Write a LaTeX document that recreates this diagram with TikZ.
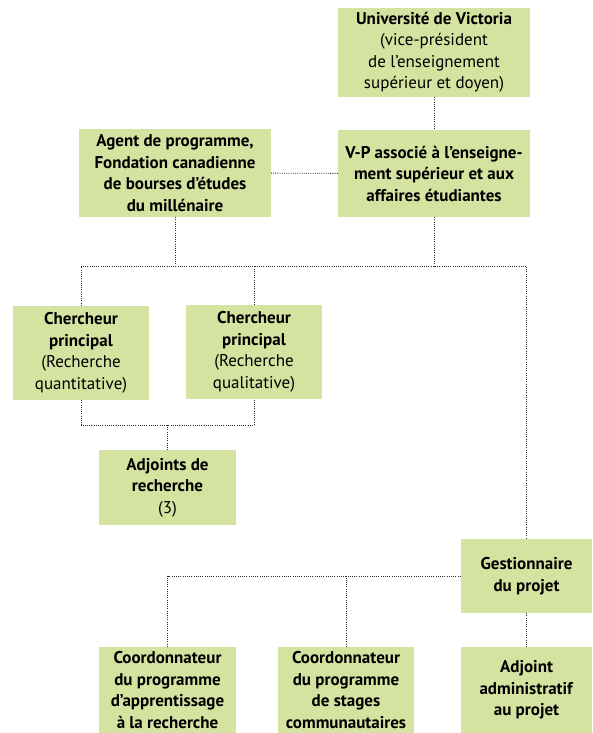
\documentclass[tikz,border=0pt]{standalone}
\usepackage{fontspec}
\setmainfont{PT Sans}
\usepackage{xcolor}
\usetikzlibrary{positioning}
\definecolor{boxgreen}{RGB}{213,227,161}
\definecolor{linegray}{RGB}{45,45,45}
\tikzset{
  unit/.style={fill=boxgreen, inner sep=0pt, align=center, font=\fontsize{17}{21.5}\selectfont},
  link/.style={draw=linegray, line width=0.9pt, dash pattern=on 1pt off 1.2pt},
}

\begin{document}
\begin{tikzpicture}[x=1pt, y=-1pt]
      %\draw [dotted] (0,0) grid [step=50] (592,733);
      \useasboundingbox (0,0) rectangle (592,733);
      \node [unit, minimum width=192, minimum height=89] (univ)   at (434.0,  52.5) {\textbf{Université de Victoria}\\(vice-président\\de l’enseignement\\supérieur et doyen)};
      \node [unit, minimum width=192, minimum height=87] (vp)     at (434.0, 173.5) {\textbf{V-P associé à l’enseigne-}\\\textbf{ment supérieur et aux}\\\textbf{affaires étudiantes}};
      \node [unit, minimum width=192, minimum height=88] (agent)  at (175.0, 173.0) {\textbf{Agent de programme,}\\\textbf{Fondation canadienne}\\\textbf{de bourses d’études}\\\textbf{du millénaire}};
      \node [unit, minimum width=136, minimum height=94] (cq1)    at ( 81.0, 353.0) {\textbf{Chercheur}\\\textbf{principal}\\(Recherche\\quantitative)};
      \node [unit, minimum width=136, minimum height=94] (cq2)    at (254.0, 352.0) {\textbf{Chercheur}\\\textbf{principal}\\(Recherche\\qualitative)};
      \node [unit, minimum width=137, minimum height=75] (adj)    at (167.5, 487.5) {\textbf{Adjoints de}\\\textbf{recherche}\\(3)};
      \node [unit, minimum width=131, minimum height=74] (gest)   at (526.5, 576.0) {\textbf{Gestionnaire}\\\textbf{du projet}};
      \node [unit, minimum width=137, minimum height=86] (coord1) at (167.5, 690.0) {\textbf{Coordonnateur}\\\textbf{du programme}\\\textbf{d’apprentissage}\\\textbf{à la recherche}};
      \node [unit, minimum width=136, minimum height=86] (coord2) at (346.0, 690.0) {\textbf{Coordonnateur}\\\textbf{du programme}\\\textbf{de stages}\\\textbf{communautaires}};
      \node [unit, minimum width=131, minimum height=86] (admin)  at (526.5, 690.0) {\textbf{Adjoint}\\\textbf{administratif}\\\textbf{au projet}};
      \coordinate (bus)  at (300.0, 266.0);
      \coordinate (join) at (167.5, 425.0);
      \draw [link] (univ) -- (vp);
      \draw [link] (vp) -- (agent);
      \draw [link] (agent.south) -- (agent.south |- bus);
      \draw [link] (vp.south) -- (vp.south |- bus);
      \draw [link] (cq1.north) |- (gest.north |- bus) -- (gest.north);
      \draw [link] (cq2.north) -- (cq2.north |- bus);
      \draw [link] (cq1.south) |- (join) -| (cq2.south);
      \draw [link] (join) -- (adj.north);
      \draw [link] (gest.west) -| (coord1.north);
      \draw [link] (coord2.north) -- (coord2.north |- gest.west);
      \draw [link] (gest) -- (admin);
\end{tikzpicture}
\end{document}
